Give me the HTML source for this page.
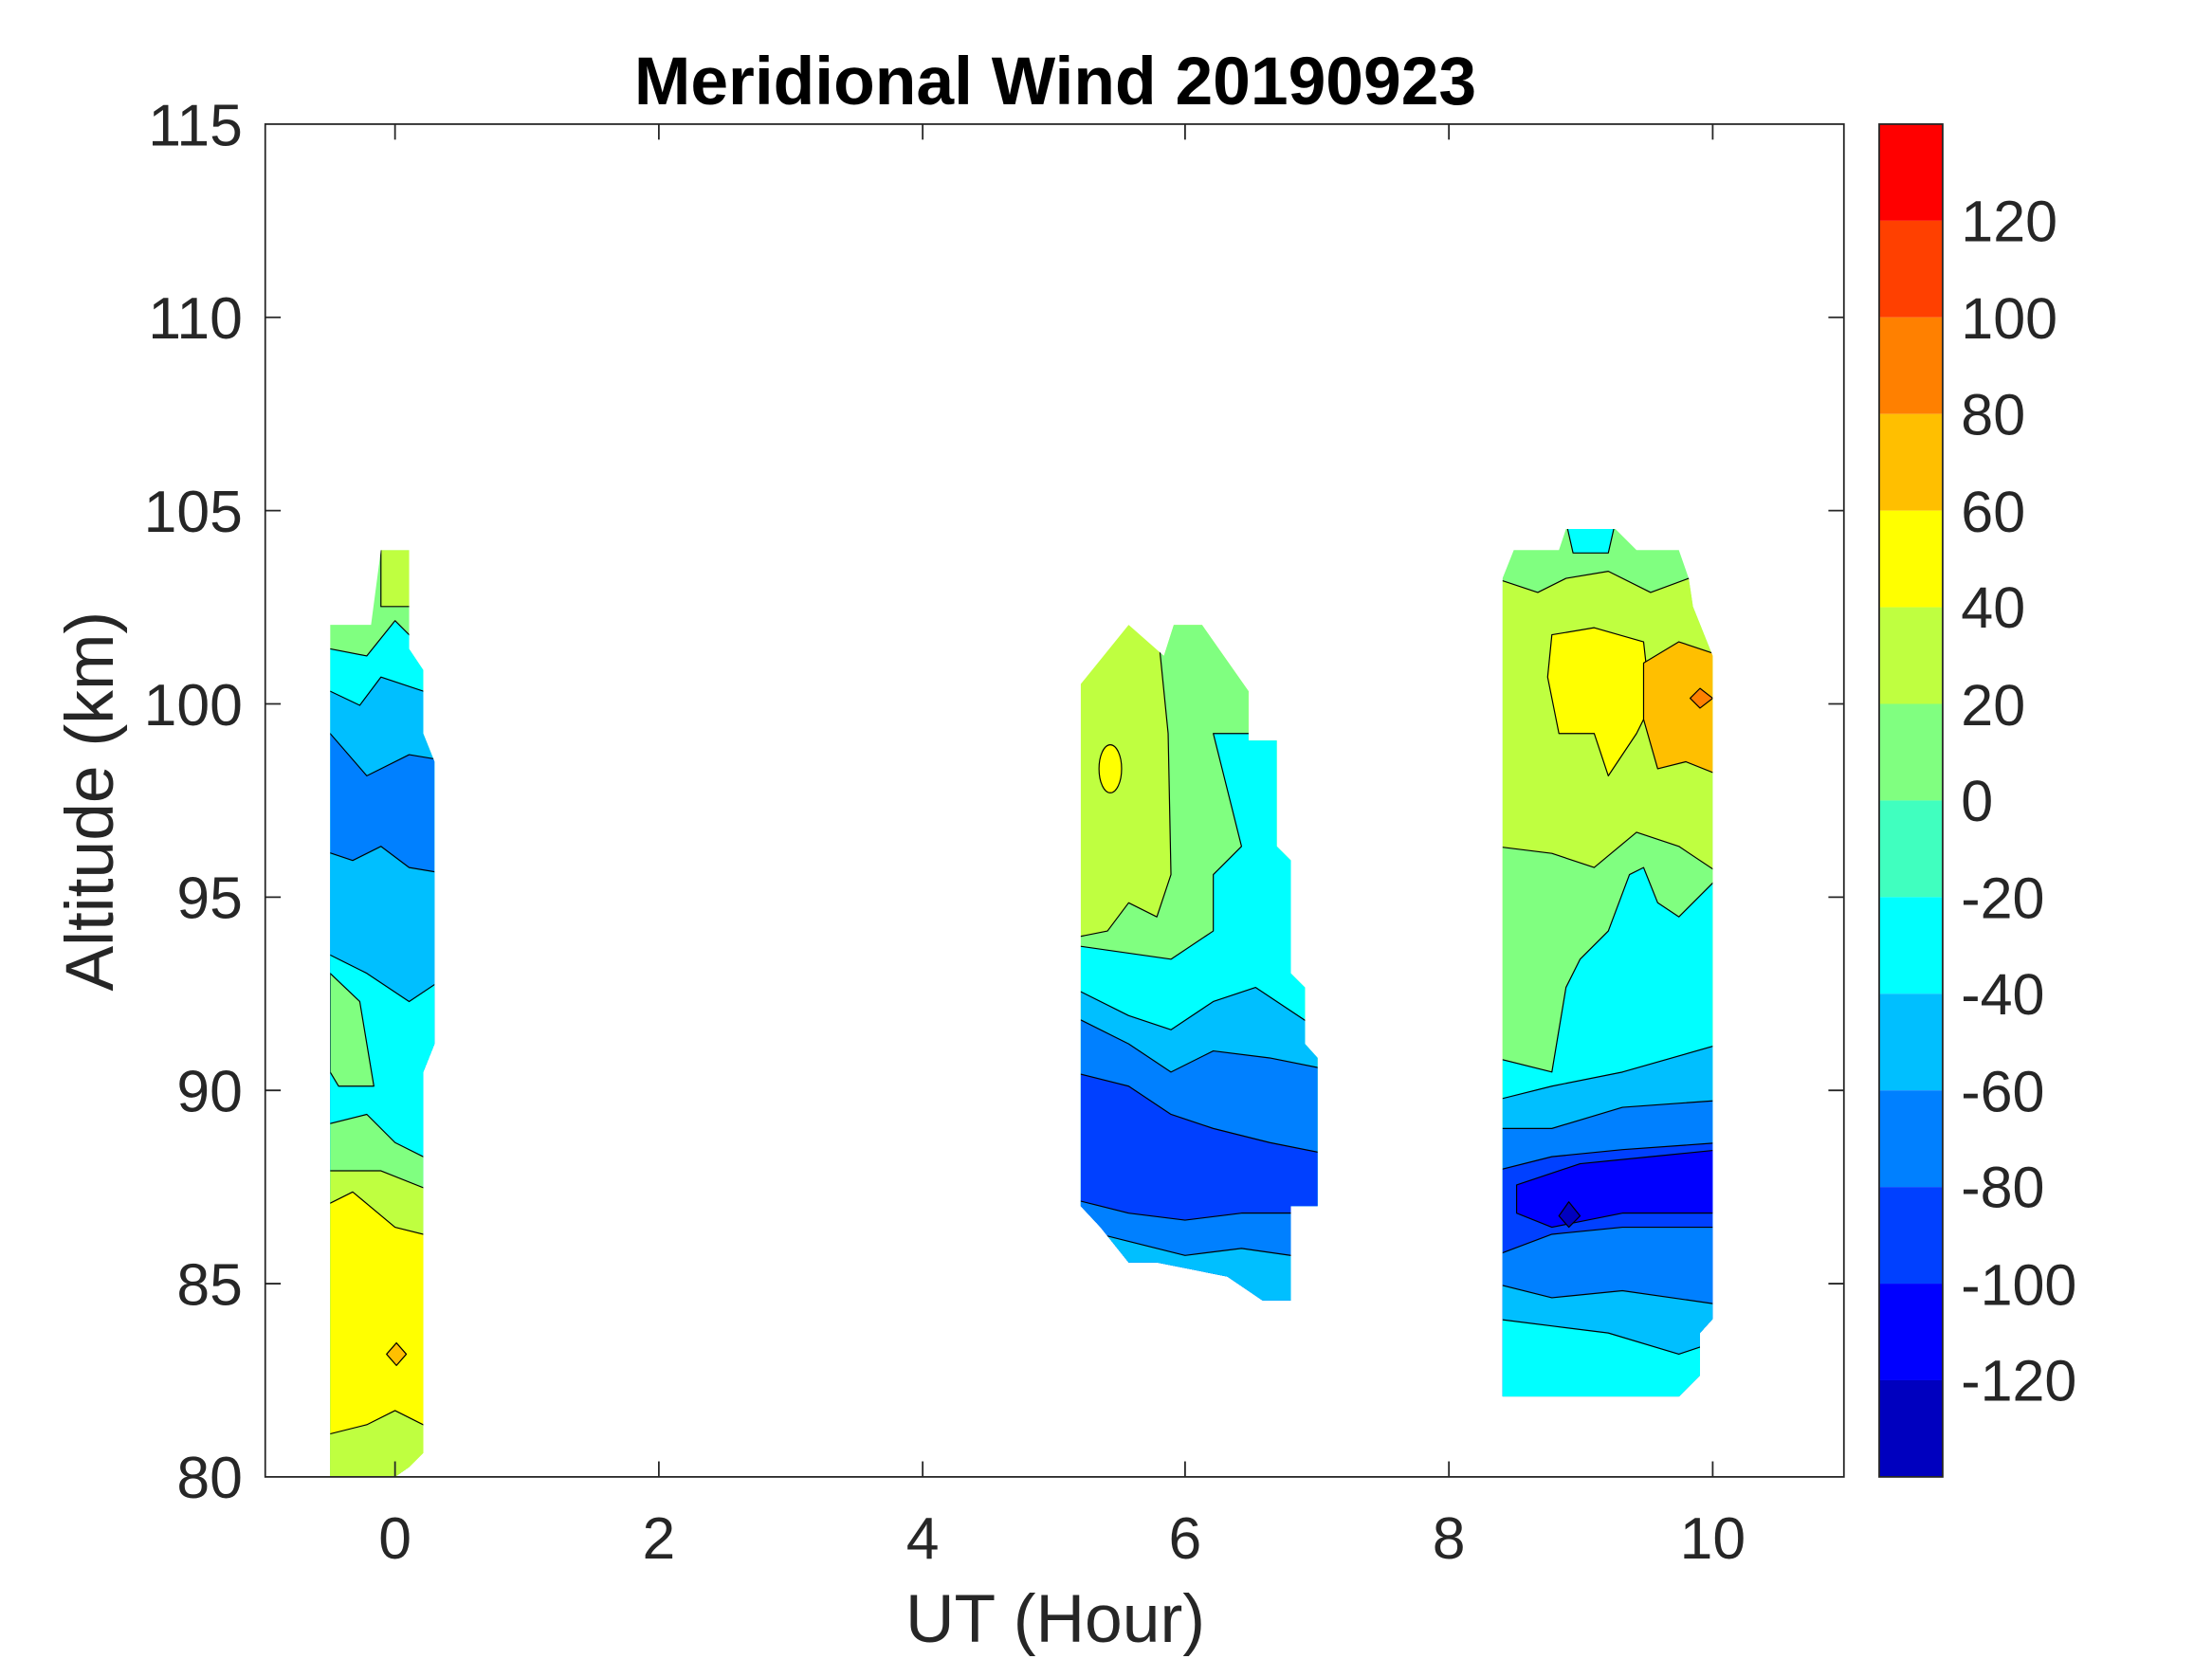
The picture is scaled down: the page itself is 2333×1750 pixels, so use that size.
<!DOCTYPE html>
<html><head><meta charset="utf-8"><style>html,body{margin:0;padding:0;background:#fff}svg{display:block}</style></head>
<body>
<svg width="2333" height="1750" viewBox="0 0 1567.9 1176.1" xmlns="http://www.w3.org/2000/svg" font-family="Liberation Sans, Arial, sans-serif">
<defs>
<clipPath id="c1"><polygon points="234,443 263,443 270,390 290,390 290,460 300,475 300,520 308,540 308,740 300,760 300,1030 290,1040 280,1047 234,1047"/></clipPath>
<clipPath id="c2"><polygon points="766,485 800,443 825,465 832,443 852,443 885,490 885,525 905,525 905,600 915,610 915,690 925,700 925,740 934,750 934,855 915,855 915,922 895,922 870,905 845,900 820,895 800,895 780,870 766,855"/></clipPath>
<clipPath id="c3"><polygon points="1065,410 1073,390 1105,390 1110,375 1145,375 1160,390 1190,390 1197,410 1200,430 1214,465 1214,935 1205,945 1205,975 1190,990 1065,990"/></clipPath>
</defs>
<rect width="1567.9" height="1176.1" fill="#fff"/>
<g stroke="#000" stroke-width="0.8" stroke-linejoin="round">
<g clip-path="url(#c1)">
<rect x="220" y="380" width="100" height="700" fill="#80ff80"/>
<rect x="270" y="385" width="22" height="45" fill="#bfff40"/>
<polygon fill="#00ffff" points="220,460 234,460 260,465 280,440 300,460 320,460 320,1100 220,1100"/>
<polygon fill="#00bfff" points="220,490 234,490 255,500 270,480 300,490 320,490 320,1100 220,1100"/>
<polygon fill="#0080ff" points="220,520 234,520 260,550 290,535 320,540 320,1100 220,1100"/>
<polygon fill="#00bfff" points="220,600 250,610 270,600 290,615 320,620 320,1100 220,1100"/>
<polygon fill="#00ffff" points="220,670 260,690 290,710 320,690 320,1100 220,1100"/>
<polygon fill="#80ff80" points="234,690 255,710 265,770 240,770 234,760"/>
<polygon fill="#80ff80" points="220,800 260,790 280,810 320,830 320,1100 220,1100"/>
<polygon fill="#bfff40" points="220,830 270,830 320,850 320,1100 220,1100"/>
<polygon fill="#ffff00" points="220,860 250,845 280,870 320,880 320,1100 220,1100"/>
<polygon fill="#ffbf00" points="274,960 281,952 288,960 281,968"/>
<polygon fill="#bfff40" points="220,1020 260,1010 280,1000 320,1020 320,1100 220,1100"/>
</g>
<g clip-path="url(#c2)">
<rect x="760" y="430" width="190" height="500" fill="#bfff40"/>
<polygon fill="#80ff80" points="820,440 828,520 830,620 820,650 800,640 785,660 760,665 760,1000 950,1000 950,440"/>
<ellipse cx="787" cy="545" rx="8" ry="17" fill="#ffff00"/>
<polygon fill="#00ffff" points="860,520 870,560 880,600 860,620 860,660 830,680 760,670 760,1000 950,1000 950,520"/>
<polygon fill="#00bfff" points="760,700 800,720 830,730 860,710 890,700 950,740 950,1000 760,1000"/>
<polygon fill="#0080ff" points="760,720 800,740 830,760 860,745 900,750 950,760 950,1000 760,1000"/>
<polygon fill="#0040ff" points="760,760 800,770 830,790 860,800 900,810 950,820 950,1000 760,1000"/>
<polygon fill="#0080ff" points="760,850 800,860 840,865 880,860 950,860 950,1000 760,1000"/>
<polygon fill="#00bfff" points="760,870 800,880 840,890 880,885 950,895 950,1000 760,1000"/>
</g>
<g clip-path="url(#c3)">
<rect x="1060" y="370" width="160" height="630" fill="#80ff80"/>
<polygon fill="#00ffff" points="1110,370 1145,370 1140,392 1115,392"/>
<polygon fill="#bfff40" points="1060,410 1090,420 1110,410 1140,405 1170,420 1197,410 1220,440 1220,1000 1060,1000"/>
<polygon fill="#ffff00" points="1100,450 1130,445 1165,455 1170,500 1160,520 1140,550 1130,520 1105,520 1097,480"/>
<polygon fill="#ffbf00" points="1165,470 1190,455 1220,465 1220,550 1195,540 1175,545 1165,510"/>
<polygon fill="#ff8000" points="1198,495 1205,488 1214,495 1205,502"/>
<polygon fill="#80ff80" points="1060,600 1100,605 1130,615 1160,590 1190,600 1220,620 1220,1000 1060,1000"/>
<polygon fill="#00ffff" points="1060,750 1100,760 1110,700 1120,680 1140,660 1155,620 1165,615 1175,640 1190,650 1220,620 1220,1000 1060,1000"/>
<polygon fill="#00bfff" points="1060,780 1100,770 1150,760 1220,740 1220,1000 1060,1000"/>
<polygon fill="#0080ff" points="1060,800 1100,800 1150,785 1220,780 1220,1000 1060,1000"/>
<polygon fill="#0040ff" points="1060,830 1100,820 1150,815 1220,810 1220,1000 1060,1000"/>
<polygon fill="#0000ff" points="1075,840 1120,825 1170,820 1220,815 1220,860 1150,860 1100,870 1075,860"/>
<polygon fill="#0000bf" points="1105,862 1112,852 1120,862 1112,870"/>
<polygon fill="#0080ff" points="1060,890 1100,875 1150,870 1220,870 1220,1000 1060,1000"/>
<polygon fill="#00bfff" points="1060,910 1100,920 1150,915 1220,925 1220,1000 1060,1000"/>
<polygon fill="#00ffff" points="1060,935 1100,940 1140,945 1190,960 1220,950 1220,1000 1060,1000"/>
</g>
</g>
<rect x="188" y="88" width="1119" height="959" fill="none" stroke="#262626" stroke-width="1.2"/>
<g stroke="#262626" stroke-width="1.2">
<line x1="280" y1="1047" x2="280" y2="1036"/><line x1="467" y1="1047" x2="467" y2="1036"/><line x1="654" y1="1047" x2="654" y2="1036"/><line x1="840" y1="1047" x2="840" y2="1036"/><line x1="1027" y1="1047" x2="1027" y2="1036"/><line x1="1214" y1="1047" x2="1214" y2="1036"/>
<line x1="280" y1="88" x2="280" y2="99"/><line x1="467" y1="88" x2="467" y2="99"/><line x1="654" y1="88" x2="654" y2="99"/><line x1="840" y1="88" x2="840" y2="99"/><line x1="1027" y1="88" x2="1027" y2="99"/><line x1="1214" y1="88" x2="1214" y2="99"/>
<line x1="188" y1="225" x2="199" y2="225"/><line x1="188" y1="362" x2="199" y2="362"/><line x1="188" y1="499" x2="199" y2="499"/><line x1="188" y1="636" x2="199" y2="636"/><line x1="188" y1="773" x2="199" y2="773"/><line x1="188" y1="910" x2="199" y2="910"/>
<line x1="1307" y1="225" x2="1296" y2="225"/><line x1="1307" y1="362" x2="1296" y2="362"/><line x1="1307" y1="499" x2="1296" y2="499"/><line x1="1307" y1="636" x2="1296" y2="636"/><line x1="1307" y1="773" x2="1296" y2="773"/><line x1="1307" y1="910" x2="1296" y2="910"/>
</g>
<g font-size="42" fill="#262626" text-anchor="middle">
<text x="280" y="1105">0</text><text x="467" y="1105">2</text><text x="654" y="1105">4</text><text x="840" y="1105">6</text><text x="1027" y="1105">8</text><text x="1214" y="1105">10</text>
</g>
<g font-size="42" fill="#262626" text-anchor="end">
<text x="172" y="1062">80</text><text x="172" y="925">85</text><text x="172" y="788">90</text><text x="172" y="651">95</text><text x="172" y="514">100</text><text x="172" y="377">105</text><text x="172" y="240">110</text><text x="172" y="103">115</text>
</g>
<text x="748" y="1164" font-size="48" fill="#262626" text-anchor="middle">UT (Hour)</text>
<text transform="translate(80,568) rotate(-90)" font-size="48" fill="#262626" text-anchor="middle">Altitude (km)</text>
<text x="748" y="74" font-size="48" font-weight="bold" fill="#000" text-anchor="middle">Meridional Wind 20190923</text>
<g>
<rect x="1332" y="88" width="45" height="68.5" fill="#ff0000"/>
<rect x="1332" y="156.5" width="45" height="68.5" fill="#ff4000"/>
<rect x="1332" y="225" width="45" height="68.5" fill="#ff8000"/>
<rect x="1332" y="293.5" width="45" height="68.5" fill="#ffbf00"/>
<rect x="1332" y="362" width="45" height="68.5" fill="#ffff00"/>
<rect x="1332" y="430.5" width="45" height="68.5" fill="#bfff40"/>
<rect x="1332" y="499" width="45" height="68.5" fill="#80ff80"/>
<rect x="1332" y="567.5" width="45" height="68.5" fill="#40ffbf"/>
<rect x="1332" y="636" width="45" height="68.5" fill="#00ffff"/>
<rect x="1332" y="704.5" width="45" height="68.5" fill="#00bfff"/>
<rect x="1332" y="773" width="45" height="68.5" fill="#0080ff"/>
<rect x="1332" y="841.5" width="45" height="68.5" fill="#0040ff"/>
<rect x="1332" y="910" width="45" height="68.5" fill="#0000ff"/>
<rect x="1332" y="978.5" width="45" height="68.5" fill="#0000bf"/>
<rect x="1332" y="88" width="45" height="959" fill="none" stroke="#262626" stroke-width="1.2"/>
</g>
<g font-size="41" fill="#262626">
<text x="1390" y="171">120</text><text x="1390" y="240">100</text><text x="1390" y="308">80</text><text x="1390" y="377">60</text><text x="1390" y="445">40</text><text x="1390" y="514">20</text><text x="1390" y="582">0</text><text x="1390" y="651">-20</text><text x="1390" y="719">-40</text><text x="1390" y="788">-60</text><text x="1390" y="856">-80</text><text x="1390" y="925">-100</text><text x="1390" y="993">-120</text>
</g>
</svg>
</body></html>
